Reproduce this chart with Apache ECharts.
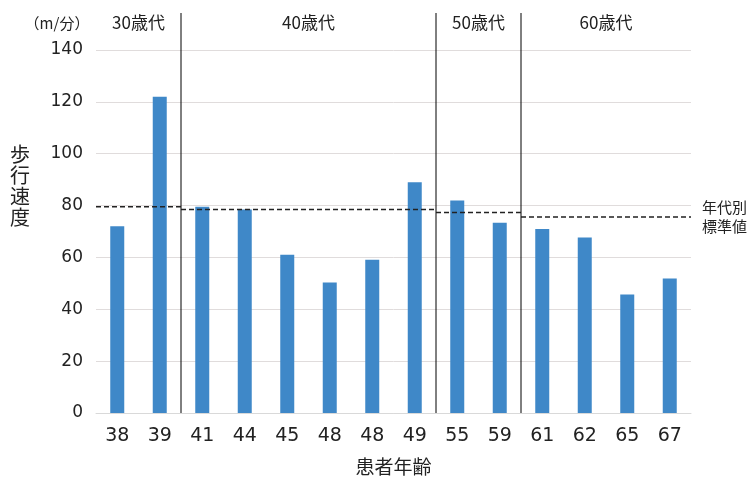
<!DOCTYPE html>
<html>
<head>
<meta charset="utf-8">
<script src="https://cdn.jsdelivr.net/npm/echarts@6/dist/echarts.min.js"></script>
<style>
    html, body { margin: 0; padding: 0; background: #fff; }
    #chart { width: 752px; height: 477px; }
</style>
</head>
<body>
<div id="chart"></div>
<script>
    // 患者年齢（同じ年齢が2人いる）
    var ages = ['38', '39', '41', '44', '45', '48', '48', '49', '55', '59', '61', '62', '65', '67'];
    // 歩行速度 (m/分)
    var speeds = [72, 122, 79.5, 78.5, 61, 50.3, 59.1, 89, 82, 73.4, 71, 67.7, 45.7, 51.9];
    // 年代の区切り（カテゴリ番号）と標準値
    var decadeNames = ['30歳代', '40歳代', '50歳代', '60歳代'];
    var decadeBounds = [0, 2, 8, 10, 14];
    var decadeStd = [79.5, 78.5, 77.3, 75.6];
    var yTicks = [0, 20, 40, 60, 80, 100, 120, 140];

    var font = '"Noto Sans CJK JP", "Noto Sans", sans-serif';
    var numFont = '"DejaVu Sans", sans-serif';
    var textColor = '#222';

    var series = [
        {
            type: 'bar',
            data: speeds,
            barWidth: 14,
            itemStyle: { color: '#3f88c8' },
            xAxisIndex: 0,
            yAxisIndex: 0,
            z: 2
        }
    ];

    // 年代別標準値の破線
    decadeStd.forEach(function (v, i) {
        var s = {
            type: 'line',
            xAxisIndex: 1,
            yAxisIndex: 0,
            symbol: 'none',
            silent: true,
            z: 5,
            lineStyle: { color: textColor, width: 1.5, type: [5, 3] },
            data: [[decadeBounds[i], v], [decadeBounds[i + 1], v]]
        };
        if (i === decadeStd.length - 1) {
            s.endLabel = {
                show: true,
                formatter: '年代別\n標準値',
                distance: 11,
                fontFamily: font,
                fontSize: 15,
                lineHeight: 19,
                color: textColor
            };
        }
        series.push(s);
    });

    // 年代の区切り線
    decadeBounds.slice(1, -1).forEach(function (b) {
        series.push({
            type: 'line',
            xAxisIndex: 2,
            yAxisIndex: 2,
            symbol: 'none',
            silent: true,
            z: 4,
            lineStyle: { color: '#000', width: 1 },
            data: [[b, 0], [b, 1]]
        });
    });

    // 年代ラベル
    series.push({
        type: 'scatter',
        xAxisIndex: 2,
        yAxisIndex: 2,
        symbolSize: 0,
        silent: true,
        itemStyle: { opacity: 1 },
        label: {
            show: true,
            position: 'inside',
            formatter: function (p) { return p.name; },
            fontFamily: font,
            fontSize: 17,
            color: textColor
        },
        data: decadeNames.map(function (n, i) {
            return { name: n, value: [(decadeBounds[i] + decadeBounds[i + 1]) / 2, 0.975] };
        })
    });

    var option = {
        animation: false,
        backgroundColor: '#fff',
        grid: [
            { left: 96, right: 61, top: 50, bottom: 64, outerBoundsMode: 'none' },
            { left: 96, right: 61, top: 13, bottom: 64, outerBoundsMode: 'none' }
        ],
        xAxis: [
            {
                type: 'category',
                gridIndex: 0,
                data: ages,
                axisTick: { show: false },
                axisLine: { lineStyle: { color: '#d9d9d9' } },
                axisLabel: { fontFamily: numFont, fontSize: 19, color: textColor, margin: 14, interval: 0 },
                name: '患者年齢',
                nameLocation: 'middle',
                nameGap: 44,
                nameTextStyle: { fontFamily: font, fontSize: 19, color: textColor }
            },
            { type: 'value', gridIndex: 0, min: 0, max: 14, show: false },
            { type: 'value', gridIndex: 1, min: 0, max: 14, show: false }
        ],
        yAxis: [
            {
                type: 'value',
                gridIndex: 0,
                min: yTicks[0],
                max: yTicks[yTicks.length - 1],
                interval: 20,
                axisLine: { show: false },
                axisTick: { show: false },
                axisLabel: { fontFamily: numFont, fontSize: 17, color: textColor, margin: 13 },
                splitLine: { lineStyle: { color: '#e0dcdc' } }
            },
            { type: 'value', gridIndex: 0, show: false },
            { type: 'value', gridIndex: 1, min: 0, max: 1, show: false }
        ],
        graphic: [
            {
                type: 'text',
                x: 57,
                y: 23,
                style: {
                    text: '（m/分）',
                    font: '15px ' + font,
                    fill: textColor,
                    align: 'center',
                    verticalAlign: 'middle'
                }
            },
            {
                type: 'text',
                x: 20,
                y: 186,
                style: {
                    text: '歩\n行\n速\n度',
                    font: '20px ' + font,
                    lineHeight: 21,
                    fill: textColor,
                    align: 'center',
                    verticalAlign: 'middle'
                }
            }
        ],
        series: series
    };

    var chart = echarts.init(document.getElementById('chart'));
    chart.setOption(option);
    window.addEventListener('resize', function () {
        chart.resize();
    });
</script>
</body>
</html>
